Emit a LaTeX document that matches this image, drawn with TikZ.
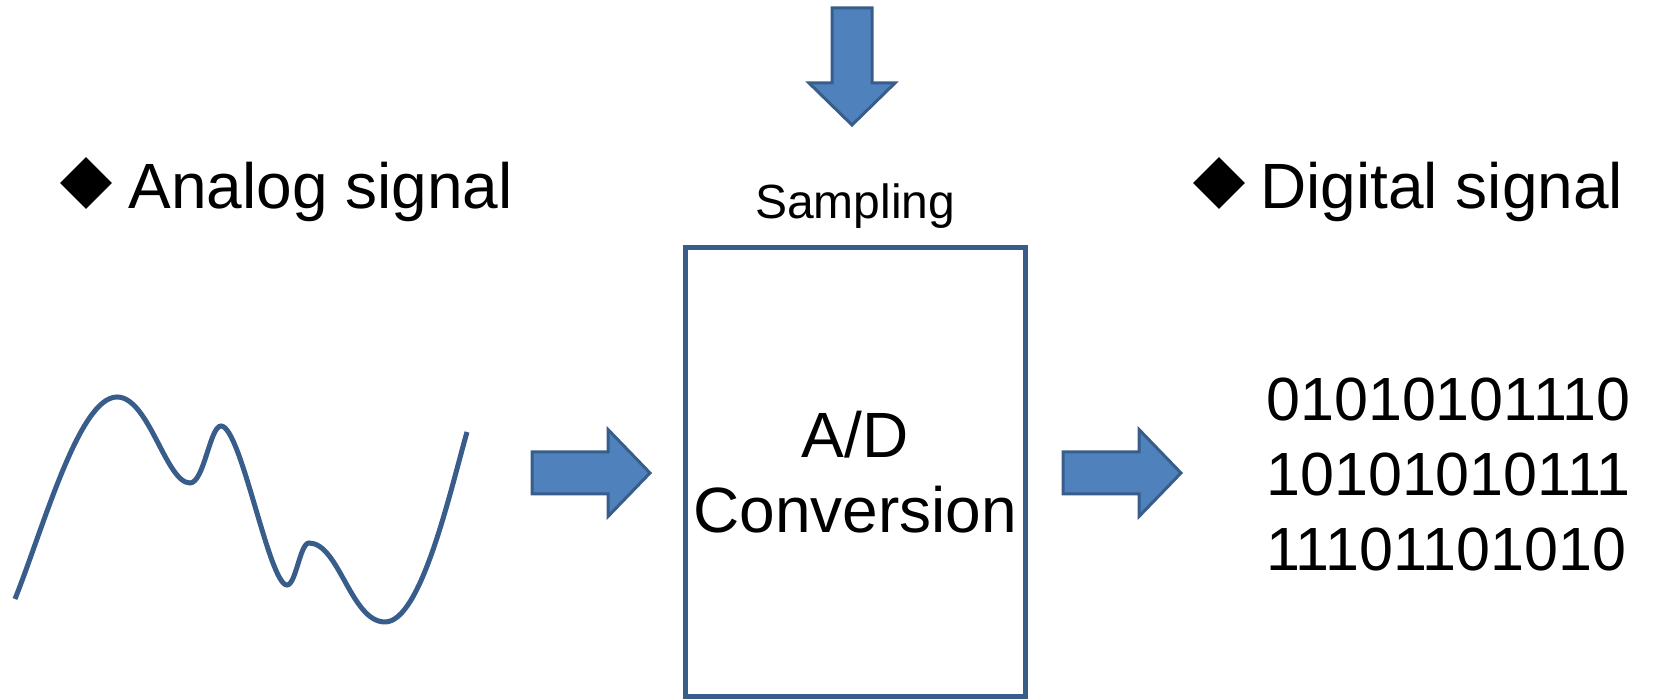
\documentclass[tikz,border=0pt]{standalone}
\usepackage{fontspec}
\setmainfont{Liberation Sans}
\usetikzlibrary{shapes.geometric, positioning}
\definecolor{adline}{RGB}{56, 93, 138}
\definecolor{adfill}{RGB}{79, 129, 189}
\tikzset{
  sigline/.style={line width=2.5pt, draw=adline, line cap=butt},
  convbox/.style={rectangle, draw=adline, line width=2.5pt, inner sep=0pt,
                  minimum width=169.75pt, minimum height=224.75pt, align=center,
                  font=\fontsize{32}{37.5}\selectfont},
  blockarrow/.style={draw=adline, fill=adfill, line width=1.5pt, line join=miter},
  bigtext/.style={inner sep=0pt, font=\fontsize{32}{37.5}\selectfont},
  bittext/.style={inner sep=0pt, font=\fontsize{30.5}{37.5}\selectfont},
  smalltext/.style={inner sep=0pt, font=\fontsize{24}{28}\selectfont},
  bullet/.style={diamond, fill=black, inner sep=0pt, minimum size=26pt, aspect=1},
}

\begin{document}
\begin{tikzpicture}[x=0.5pt, y=0.5pt]
  \useasboundingbox (0,0) rectangle (1661,699);

  % Headings
  \node[bullet] (adia) at (86,516) {};
  \node[bigtext, anchor=base west] (atext) at (128,490) {Analog signal};
  \node[bullet] (ddia) at (1219,516) {};
  \node[bigtext, anchor=base west] (dtext) at (1260,490) {Digital signal};

  % Converter
  \node[convbox] (conv) at (855.25,226.75) {A/D\\Conversion};
  \node[smalltext, above=8pt of conv] (samp) {Sampling};

  % Output bits
  \node[bittext, anchor=west, align=left] (bits) at (1266,224.5)
        {01010101110\\10101010111\\11101101010};

  % Analog wave
  \draw[sigline] (15,100) .. controls +(28,70) and +(-38,0) .. (117,302)
                 .. controls +(32,0) and +(-24,0) .. (190,216)
                 .. controls +(14,0) and +(-11,0) .. (221,273)
                 .. controls +(20,0) and +(-18,0) .. (287,114)
                 .. controls +(9,0) and +(-9,0) .. (309,156)
                 .. controls +(30,0) and +(-34,0) .. (385,77)
                 .. controls +(36,0) and +(-17,-60) .. (467,267);

  % Block arrows
  \foreach \xs in {532,1063}
    \draw[blockarrow] (\xs,247) -- ({\xs+76},247) -- ({\xs+76},269.5)
          -- ({\xs+118},226) -- ({\xs+76},182.5) -- ({\xs+76},205)
          -- (\xs,205) -- cycle;
  \draw[blockarrow] (832,691) -- (872,691) -- (872,616) -- (895,616)
        -- (852,574) -- (809,616) -- (832,616) -- cycle;
\end{tikzpicture}
\end{document}
